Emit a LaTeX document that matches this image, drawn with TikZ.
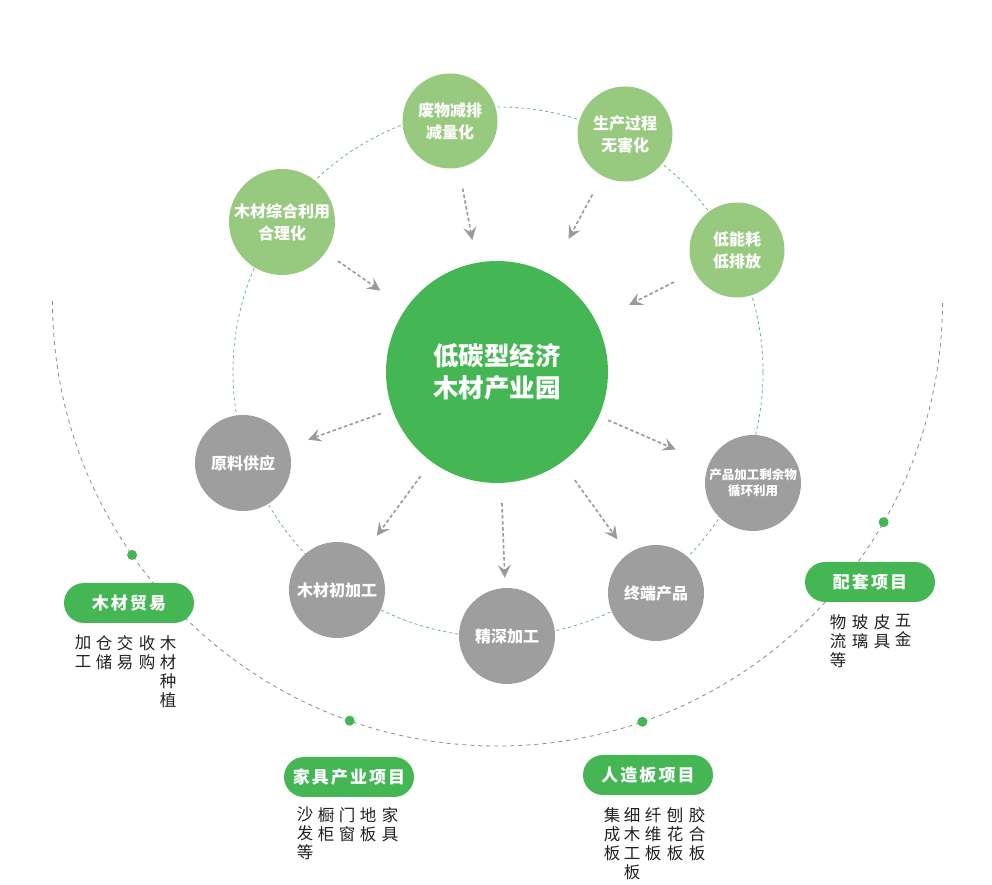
\documentclass[tikz,border=0pt]{standalone}
\usepackage{fontspec}
\setmainfont{Noto Sans CJK SC}
\newfontfamily\pillfont[LetterSpace=12]{Noto Sans CJK SC}
\usetikzlibrary{arrows.meta}
\definecolor{parkgreen}{HTML}{44B654}
\definecolor{leafgreen}{HTML}{97C97F}
\definecolor{stonegray}{HTML}{9E9E9E}
\definecolor{arrowgray}{HTML}{999999}
\definecolor{ringgreen}{HTML}{5DAE6B}
\definecolor{arcgray}{HTML}{8A8A8A}
\begin{document}
\begin{tikzpicture}
[x=1pt,y=1pt,
  hubdecorate/.style={shape=circle,fill=parkgreen,text=white,inner sep=0pt,minimum size=222pt,align=center,font=\fontsize{25.5}{34}\selectfont\bfseries},%
  leafdecorate/.style={shape=circle,fill=leafgreen,text=white,inner sep=0pt,minimum size=95pt,align=center,font=\fontsize{16}{22}\selectfont\bfseries},
  stonedecorate/.style={shape=circle,fill=stonegray,text=white,inner sep=0pt,minimum size=96pt,align=center,font=\fontsize{16}{22}\selectfont\bfseries},
  pilldecorate/.style={shape=rectangle,rounded corners=20pt,fill=parkgreen,text=white,minimum width=130pt,minimum height=40pt,font=\fontsize{17}{17}\selectfont\pillfont\bfseries},
  columndecorate/.style={anchor=north,align=center,inner sep=0pt,text=black!87,font=\fontsize{16.5}{19}\selectfont},
  dotdecorate/.style={shape=circle,fill=parkgreen,inner sep=0pt,minimum size=10pt},
  linedecorate/.style={-{Stealth[length=13pt,width=13pt,inset=5pt]},arrowgray,line width=1.6pt,dash pattern=on 3.5pt off 2.5pt},
  ringdecorate/.style={ringgreen,line width=0.7pt,dash pattern=on 3pt off 3pt},
  arcdecorate/.style={arcgray,line width=0.8pt,dash pattern=on 4pt off 4pt}]
\useasboundingbox (0,0) rectangle (992,885);
%% rings
\coordinate (ringcentre) at (498,513);
\coordinate (arccentre) at (497.5,584);
\draw[ringdecorate] (ringcentre) circle[radius=265pt];
\draw[arcdecorate] (arccentre) ++(180:445pt) arc[start angle=180,end angle=360,radius=445pt];
\foreach \dotname/\ang in {tradedot/214.8, furnituredot/250.6, boarddot/289, supportdot/330.2} {
  \node (\dotname) at (arccentre) [dotdecorate,shift={(\ang:445pt)}] {};
}
%% circles
\node (hub) at (497,513) [hubdecorate] {\raisebox{-5pt}{\shortstack{低碳型经济\\[4pt]木材产业园}}};
\foreach \nodename/\x/\y/\txt in {waste/450/764/{废物减排\\减量化}, process/625/751/{生产过程\\无害化}, energy/737/635/{低能耗\\低排放}} {
  \node (\nodename) at (\x,\y) [leafdecorate] {\txt};
}
\node (woodusage) at (282,663) [leafdecorate,minimum size=106pt] {木材综合利用\\合理化};
\foreach \nodename/\x/\y/\txt in {supply/243/422/{原料供应}, primary/337/295/{木材初加工}, deep/507/249/{精深加工}, product/656/292/{终端产品}} {
  \node (\nodename) at (\x,\y) [stonedecorate] {\txt};
}
\node (residue) at (753,402) [stonedecorate,font=\fontsize{12.5}{16}\selectfont\bfseries] {产品加工剩余物\\循环利用};
%% arrows
\path
\foreach \startnode/\endnode/\s/\e in {woodusage/hub/15/31, waste/hub/21/23, process/hub/21/40, energy/hub/23/37,
  hub/supply/12/21, hub/primary/18/19, hub/deep/20/10, hub/product/22/18, hub/residue/10/36} {
  (\startnode) edge[linedecorate,shorten <=\s pt,shorten >=\e pt] (\endnode)
};
%% projects
\foreach \nodename/\x/\y/\txt in {trade/129/282/木材贸易, furniture/349/108/家具产业项目, board/648/110/人造板项目, support/870/303/配套项目} {
  \node (\nodename) at (\x,\y) [pilldecorate] {\txt};
}
\foreach \nodename/\x/\y/\txt in {trade1/83/250/{加\\工}, trade2/104/250/{仓\\储}, trade3/125/250/{交\\易}, trade4/147/250/{收\\购}, trade5/168/250/{木\\材\\种\\植},
  furniture1/305/78/{沙\\发\\等}, furniture2/326/78/{橱\\柜}, furniture3/347/78/{门\\窗}, furniture4/368/78/{地\\板}, furniture5/390/78/{家\\具},
  board1/612/78/{集\\成\\板}, board2/632/78/{细\\木\\工\\板}, board3/653/78/{纤\\维\\板}, board4/675/78/{刨\\花\\板}, board5/697/78/{胶\\合\\板},
  support1/838/271/{物\\流\\等}, support2/860/271/{玻\\璃}, support3/882/271/{皮\\具}, support4/903/271/{五\\金}} {
  \node (\nodename) at (\x,\y) [columndecorate] {\txt};
}
\end{tikzpicture}
\end{document}
